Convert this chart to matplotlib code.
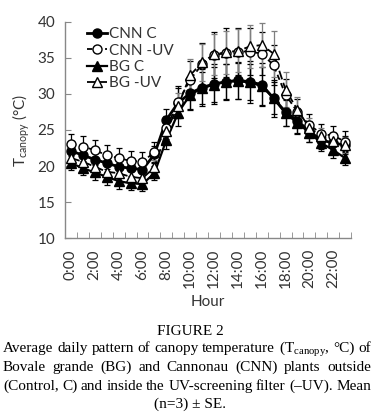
import numpy as np
import matplotlib
matplotlib.use("Agg")
import matplotlib.pyplot as plt
from matplotlib.lines import Line2D

plt.rcParams['font.family'] = ['Lato', 'DejaVu Sans']
plt.rcParams['mathtext.fontset'] = 'custom'
plt.rcParams['mathtext.rm'] = 'Liberation Serif'
plt.rcParams['mathtext.sf'] = 'Lato'

# data (canopy temperature, degC, mean and SE)
hours = list(range(24))
hour_labels = ["%d:00" % h for h in range(0, 24, 2)]

cnn_c = [22.1, 21.5, 20.9, 20.4, 19.9, 19.7, 19.5, 21.6, 26.4, 28.8, 30.1, 30.9,
         31.4, 31.7, 31.9, 31.7, 31.3, 29.4, 27.5, 26.3, 24.8, 23.6, 23.2, 22.9]
cnn_uv = [23.1, 22.7, 22.2, 21.5, 21.1, 20.7, 20.6, 21.9, 25.3, 28.9, 32.0, 34.1,
          35.4, 35.7, 35.9, 35.9, 35.6, 34.0, 29.9, 27.5, 25.7, 24.5, 24.2, 23.4]
bg_c = [20.4, 19.7, 19.1, 18.5, 17.9, 17.6, 17.5, 19.0, 23.6, 27.4, 29.9, 30.8,
        31.3, 31.7, 31.8, 31.6, 31.1, 29.4, 27.3, 26.0, 24.6, 23.2, 22.2, 21.1]
bg_uv = [21.1, 20.6, 19.9, 19.2, 19.0, 18.5, 18.3, 19.8, 24.8, 28.4, 32.6, 34.4,
         35.5, 35.8, 36.0, 36.6, 36.8, 35.6, 30.6, 27.8, 25.3, 24.1, 23.5, 22.9]

cnn_c_se = [1.2, 1.2, 1.3, 1.3, 1.3, 1.3, 1.3, 1.2, 1.5, 2.0, 2.3, 2.6,
            2.8, 2.5, 2.6, 2.9, 3.0, 2.6, 2.0, 1.7, 1.5, 1.3, 1.2, 1.2]
cnn_uv_se = [1.4, 1.4, 1.4, 1.4, 1.4, 1.4, 1.4, 1.4, 1.6, 2.2, 2.6, 3.0,
             3.2, 3.4, 3.3, 3.2, 3.0, 2.8, 2.2, 1.8, 1.5, 1.4, 1.4, 1.4]
bg_c_se = [1.0, 1.0, 1.1, 1.1, 1.1, 1.0, 1.0, 1.0, 1.3, 1.8, 2.0, 2.2,
           2.4, 2.4, 2.5, 2.5, 2.6, 2.2, 1.8, 1.5, 1.2, 1.1, 1.1, 1.0]
bg_uv_se = [1.0, 1.0, 1.1, 1.1, 1.1, 1.0, 1.0, 1.0, 1.3, 1.8, 2.2, 2.6,
            2.8, 3.0, 3.0, 3.0, 3.0, 3.2, 2.4, 1.8, 1.4, 1.2, 1.2, 1.1]

fig = plt.figure(figsize=(3.8, 4.15), dpi=100)
ax = fig.add_axes([0.171, 0.4265, 0.753, 0.5205])

series = [
    ("CNN C", cnn_c, cnn_c_se, 'o', 'k', '-', 2.0, 'black'),
    ("CNN -UV", cnn_uv, cnn_uv_se, 'o', 'white', (0, (3, 2)), 1.3, 'black'),
    ("BG C", bg_c, bg_c_se, '^', 'k', '-', 1.6, 'black'),
    ("BG -UV", bg_uv, bg_uv_se, '^', 'white', (0, (5, 2)), 1.3, '#7f7f7f'),
]

handles = []
for label, y, se, mk, mfc, ls, lw, ecol in series:
    ax.errorbar(hours, y, yerr=se, fmt='none', ecolor=ecol, elinewidth=0.9,
                capsize=2, capthick=0.9, zorder=2)
    ax.plot(hours, y, color='black', linestyle=ls, linewidth=lw, zorder=3)
    ax.plot(hours, y, linestyle='none', marker=mk, markersize=6.5,
            markerfacecolor=mfc, markeredgecolor='black', markeredgewidth=1.0,
            zorder=4)
    handles.append(Line2D([], [], color='black', linestyle=ls, linewidth=lw,
                          marker=mk, markersize=6.5, markerfacecolor=mfc,
                          markeredgecolor='black', label=label))

ax.set_xlim(-0.5, 23.5)
ax.set_ylim(10, 40)
ax.set_yticks(range(10, 41, 5))
ax.set_xticks(range(0, 24, 2))
ax.set_xticklabels(hour_labels, rotation=90)
ax.set_xticks(np.arange(0.5, 23.6, 1), minor=True)
ax.tick_params(axis='x', which='major', length=0, pad=8, labelsize=11, labelcolor='#333333')
ax.tick_params(axis='x', which='minor', direction='in', length=4, color='#888888')
ax.tick_params(axis='y', direction='in', length=4, color='#888888', labelsize=11,
               labelcolor='#333333', pad=7)
for s in ['top', 'right']:
    ax.spines[s].set_visible(False)
for s in ['left', 'bottom']:
    ax.spines[s].set_color('#888888')
    ax.spines[s].set_linewidth(1.0)

ax.set_xlabel("Hour", fontsize=11, color='#333333', labelpad=5)
ax.set_ylabel(r"T$_{\mathsf{canopy}}$ (°C)", fontsize=11, color='#333333', labelpad=4)

ax.legend(handles=handles, loc='upper left', bbox_to_anchor=(0.04, 1.025),
          frameon=False, fontsize=11, handlelength=1.3, handletextpad=0.1,
          labelspacing=0.15, borderpad=0.2, labelcolor='#333333')

# caption
serif = 'Liberation Serif'
fs = 11
W, H = 380.0, 415.0
fig.text(0.5, 1 - 335 / H, "FIGURE 2", ha='center', va='baseline',
         family=serif, fontsize=fs)

renderer = fig.canvas.get_renderer()


def justify(words, base, x0=3.0, x1=371.0):
    texts = [fig.text(0, 1 - base / H, w, ha='left', va='baseline',
                      family=serif, fontsize=fs) for w in words]
    widths = [t.get_window_extent(renderer).width for t in texts]
    gap = (x1 - x0 - sum(widths)) / (len(words) - 1)
    x = x0
    for t, w in zip(texts, widths):
        t.set_x(x / W)
        x += w + gap


justify("Average daily pattern of canopy temperature".split()
        + [r"(T$_{\mathrm{canopy}}$,", "°C)", "of"], 352)
justify("Bovale grande (BG) and Cannonau (CNN) plants outside".split(), 371)
justify("(Control, C) and inside the UV-screening filter (–UV). Mean".split(), 390)
fig.text(0.5, 1 - 408 / H, "(n=3) ± SE.", ha='center', va='baseline',
         family=serif, fontsize=fs)

fig.savefig("out.png", dpi=100)
